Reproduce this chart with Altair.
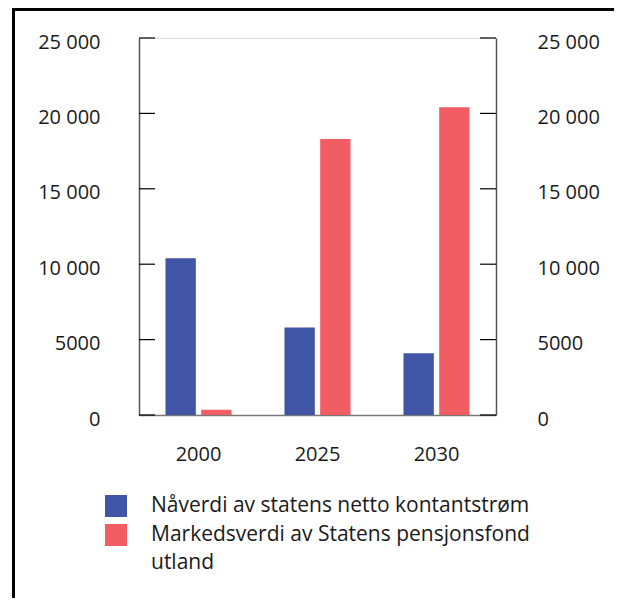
import altair as alt
import pandas as pd

years = ["2000", "2025", "2030"]
series = ["Nåverdi av statens netto kontantstrøm", "Markedsverdi av Statens pensjonsfond utland"]
naaverdi = [10400, 5800, 4100]
markedsverdi = [350, 18300, 20400]
tick_values = [0, 5000, 10000, 15000, 20000, 25000]
colors = ["#4055A6", "#F15D63"]

rows = []
for i, y in enumerate(years):
    rows.append({"year": y, "series": series[0], "value": naaverdi[i]})
    rows.append({"year": y, "series": series[1], "value": markedsverdi[i]})
df = pd.DataFrame(rows)
ticks_df = pd.DataFrame({"v": tick_values})

FONT = "Open Sans"
FS = 20
LFS = 21
W, H = 357, 377
label_expr = "datum.value >= 10000 ? replace(format(datum.value, ','), ',', ' ') : format(datum.value, 'd')"
yscale = alt.Scale(domain=[0, 25000], nice=False, zero=True)

bars = alt.Chart(df).mark_bar().encode(
    x=alt.X("year:N", sort=years, title=None,
            scale=alt.Scale(paddingInner=0.445, paddingOuter=0.2225),
            axis=alt.Axis(labelAngle=0, ticks=False, tickSize=0, labelPadding=29,
                          labelFontSize=FS, labelFont=FONT, labelColor="#1a1a1a",
                          domainColor="#777777", domainWidth=1.5)),
    xOffset=alt.XOffset("series:N", sort=series, scale=alt.Scale(paddingInner=0.15, paddingOuter=0)),
    y=alt.Y("value:Q", scale=yscale, title=None,
            axis=alt.Axis(orient="left", values=tick_values, labelExpr=label_expr, grid=False,
                          ticks=False, tickSize=0, labelPadding=39, labelOffset=4,
                          labelFontSize=FS, labelFont=FONT, labelColor="#1a1a1a",
                          domainColor="#555555", domainWidth=1.5)),
    color=alt.Color("series:N", sort=series, scale=alt.Scale(domain=series, range=colors),
                    legend=alt.Legend(orient="none", legendX=-34, legendY=457, title=None,
                                      symbolType="square", symbolSize=484, symbolStrokeWidth=0,
                                      symbolOpacity=1, labelFont=FONT, labelFontSize=LFS,
                                      labelColor="#1a1a1a", labelOffset=24, labelLimit=600,
                                      rowPadding=7, padding=0,
                                      labelExpr="datum.label == 'Markedsverdi av Statens pensjonsfond utland' ? ['Markedsverdi av Statens pensjonsfond', 'utland'] : datum.label")),
)

left_ticks = alt.Chart(ticks_df).mark_rule(color="black", strokeWidth=1.2).encode(
    y=alt.Y("v:Q", scale=yscale, axis=None), x=alt.value(0), x2=alt.value(16))

right_ticks = alt.Chart(ticks_df).mark_rule(color="black", strokeWidth=1.2).encode(
    y=alt.Y("v:Q", scale=yscale, title=None,
            axis=alt.Axis(orient="right", values=tick_values, labelExpr=label_expr, grid=False,
                          ticks=False, tickSize=0, labelPadding=41, labelOffset=4,
                          labelFontSize=FS, labelFont=FONT, labelColor="#1a1a1a",
                          domainColor="#555555", domainWidth=1.5)),
    x=alt.value(W - 16), x2=alt.value(W))

border_left = alt.Chart(ticks_df).mark_rule(color="black", strokeWidth=3).encode(
    x=alt.value(-125.5), y=alt.value(-30), y2=alt.value(560))
border_top = alt.Chart(ticks_df).mark_rule(color="black", strokeWidth=3).encode(
    x=alt.value(-127), x2=alt.value(480), y=alt.value(-29))

chart = alt.layer(bars, left_ticks, right_ticks, border_left, border_top).resolve_scale(
    y="shared").resolve_axis(y="independent").properties(
    width=W, height=H,
    autosize=alt.AutoSizeParams(type="none"),
    padding={"left": 131, "top": 30, "right": 118, "bottom": 183},
).configure_view(stroke=None).configure(
    background="white", style={"guide-label": {"lineHeight": 28}})

chart.save("out.html", embed_options={"renderer": "svg", "actions": False})
